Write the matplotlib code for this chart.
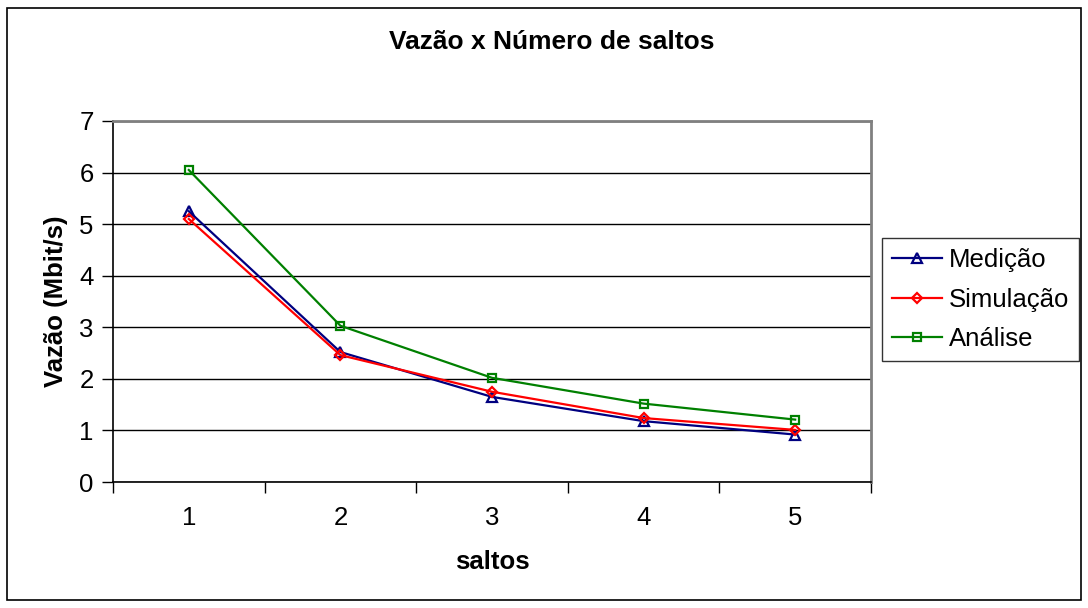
import numpy as np
import matplotlib.pyplot as plt
from matplotlib.patches import Rectangle

plt.rcParams['font.family'] = ['Liberation Sans', 'DejaVu Sans']

saltos = [1, 2, 3, 4, 5]
medicao = [5.25, 2.52, 1.65, 1.18, 0.92]
simulacao = [5.10, 2.46, 1.75, 1.24, 1.01]
analise = [6.05, 3.03, 2.02, 1.52, 1.21]

fs = 18.5

fig = plt.figure(figsize=(10.88, 6.08), dpi=100)
ax = fig.add_axes([113 / 1088, 1 - 482 / 608, (871 - 113) / 1088, (482 - 121) / 608])

x = np.arange(1, len(saltos) + 1)
ax.plot(x, medicao, color='#000080', lw=1.6, marker='^', ms=7, mfc='none', mec='#000080', mew=1.6, label='Medição')
ax.plot(x, simulacao, color='#ff0000', lw=1.6, marker='D', ms=5.5, mfc='none', mec='#ff0000', mew=1.6, label='Simulação')
ax.plot(x, analise, color='#008000', lw=1.6, marker='s', ms=6, mfc='none', mec='#008000', mew=1.6, label='Análise')

ax.set_xlim(0.5, 5.5)
ax.set_ylim(0, 7)
ax.set_yticks(range(0, 8))
ax.yaxis.grid(True, color='black', lw=1)
ax.set_axisbelow(True)

# category ticks between labels, like Excel
ax.set_xticks(np.arange(0.5, 6.0, 1.0))
ax.set_xticklabels([])
ax.set_xticks(x, minor=True)
ax.set_xticklabels([str(s) for s in saltos], minor=True)
ax.tick_params(axis='x', which='minor', length=0, pad=17, labelsize=fs)
ax.tick_params(axis='x', which='major', length=8, direction='out', width=1)
ax.tick_params(axis='y', length=8, direction='out', width=1, labelsize=fs, pad=6)

for side in ['top', 'right']:
    ax.spines[side].set_color('#808080')
    ax.spines[side].set_linewidth(2)
ax.spines['left'].set_linewidth(1.2)
ax.spines['bottom'].set_linewidth(1.2)

ax.set_xlabel('saltos', fontsize=fs, fontweight='bold', labelpad=15)
ax.set_ylabel('Vazão (Mbit/s)', fontsize=fs, fontweight='bold', labelpad=8)
fig.text(0.507, 1 - 42 / 608, 'Vazão x Número de saltos', ha='center', va='center',
         fontsize=19, fontweight='bold')

leg = fig.legend(loc='upper left', bbox_to_anchor=(882 / 1088, 1 - 238 / 608),
                 fontsize=fs, frameon=True, fancybox=False, handlelength=1.95,
                 handletextpad=0.25, labelspacing=0.6, borderpad=0.4, borderaxespad=0)
leg.get_frame().set_edgecolor('black')
leg.get_frame().set_linewidth(1)

fig.patches.append(Rectangle((7 / 1088, 8 / 608), 1 - 14 / 1088, 1 - 16 / 608,
                             transform=fig.transFigure, fill=False, ec='black', lw=1.2))

fig.savefig('out.png', dpi=100)
